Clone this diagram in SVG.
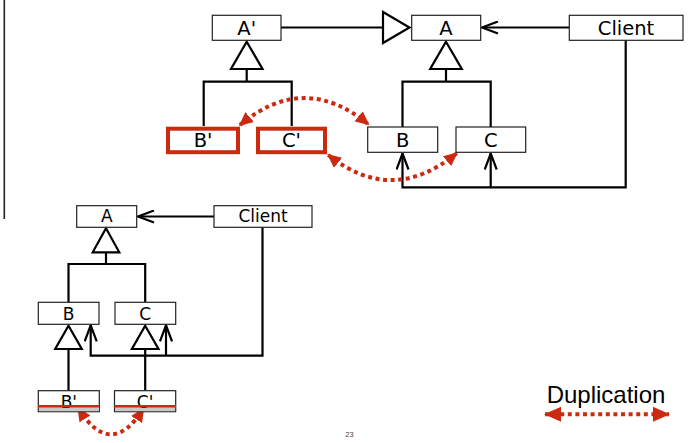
<svg xmlns="http://www.w3.org/2000/svg" width="693" height="443" viewBox="0 0 693 443">
<style>
.box{fill:#fff;stroke:#222;stroke-width:1.2}
.rbox{fill:#fff;stroke:#cc2a10;stroke-width:4}
.ln{fill:none;stroke:#000;stroke-width:2.2}
.gen{fill:#fff;stroke:#000;stroke-width:2.2;stroke-linejoin:miter}
.dup{fill:none;stroke:#cc2a10;stroke-width:4;stroke-dasharray:4 3.6}
.t1{font-family:"DejaVu Sans",Verdana,sans-serif;font-size:19.5px;text-anchor:middle;fill:#000}
.t2{font-family:"DejaVu Sans",Verdana,sans-serif;font-size:17px;text-anchor:middle;fill:#000}
</style>
<defs>
<marker id="open" viewBox="0 0 18 14" refX="17" refY="7" markerWidth="18" markerHeight="14" markerUnits="userSpaceOnUse" orient="auto">
<path d="M1,1 L17,7 L1,13" fill="none" stroke="#000" stroke-width="2.2"/>
</marker>
<marker id="red" viewBox="0 0 14 13" refX="12.5" refY="6.5" markerWidth="14" markerHeight="13" markerUnits="userSpaceOnUse" orient="auto-start-reverse">
<path d="M0,0 L14,6.5 L0,13 z" fill="#cc2a10"/>
</marker>
<marker id="redL" viewBox="0 0 17 15" refX="16" refY="7.5" markerWidth="17" markerHeight="15" markerUnits="userSpaceOnUse" orient="auto-start-reverse">
<path d="M0,0 L17,7.5 L0,15 z" fill="#cc2a10"/>
</marker>
</defs>
<rect width="693" height="443" fill="#fff"/>
<line x1="4.3" y1="0" x2="4.3" y2="219" stroke="#222" stroke-width="1.6"/>

<g id="connectors">
<!-- top diagram -->
<line class="ln" x1="281" y1="27.5" x2="383" y2="27.5"/>
<polygon class="gen" points="383,12 409.5,27.5 383,43"/>
<line class="ln" x1="569.3" y1="27.5" x2="482" y2="27.5" marker-end="url(#open)"/>
<polygon class="gen" points="246.7,41.7 262.5,69 231,69"/>
<polyline class="ln" points="246.7,69 246.7,81.7"/>
<polyline class="ln" points="203.7,126 203.7,81.7 291.7,81.7 291.7,126"/>
<polygon class="gen" points="446,41.7 461.8,69 430.2,69"/>
<polyline class="ln" points="446,69 446,81.7"/>
<polyline class="ln" points="402.5,127 402.5,81.7 490.7,81.7 490.7,127"/>
<polyline class="ln" points="625.7,40.3 625.7,187.3 402.5,187.3 402.5,153.5" marker-end="url(#open)"/>
<polyline class="ln" points="490.7,187.3 490.7,153.5" marker-end="url(#open)"/>
<!-- bottom diagram -->
<line class="ln" x1="214" y1="216.5" x2="138" y2="216.5" marker-end="url(#open)"/>
<polygon class="gen" points="106,228.3 119.3,252.3 92.7,252.3"/>
<polyline class="ln" points="106,252.3 106,264"/>
<polyline class="ln" points="68.5,302.3 68.5,264 145.2,264 145.2,302.3"/>
<polygon class="gen" points="68.5,325.7 81.8,349 55.2,349"/>
<polyline class="ln" points="68.5,349 68.5,390.7"/>
<polygon class="gen" points="145.2,325.7 158.5,349 131.9,349"/>
<polyline class="ln" points="145.2,349 145.2,390.7"/>
<polyline class="ln" points="262.5,227.3 262.5,355.7 90.7,355.7 90.7,325.3" marker-end="url(#open)"/>
<polyline class="ln" points="166,355.7 166,325.3" marker-end="url(#open)"/>
<!-- duplication arcs -->
<path class="dup" d="M240,125 Q304,71.5 368.3,124.3" marker-start="url(#red)" marker-end="url(#red)"/>
<path class="dup" d="M328.3,155 Q392,206 456.7,153.3" marker-start="url(#red)" marker-end="url(#red)"/>
<path class="dup" d="M78.3,408.3 Q110.8,460 143.3,409" marker-start="url(#red)" marker-end="url(#red)"/>
</g>

<!-- top diagram nodes -->
<g id="top-Aprime"><rect class="box" x="212.3" y="15.3" width="68.7" height="25"/><text class="t1" x="246.7" y="34.7">A'</text></g>
<g id="top-A"><rect class="box" x="411.7" y="15.3" width="69" height="25"/><text class="t1" x="446" y="34.7">A</text></g>
<g id="top-Client"><rect class="box" x="569.3" y="15.3" width="113.7" height="25"/><text class="t1" x="626" y="34.7">Client</text></g>
<g id="top-Bprime"><rect class="rbox" x="168" y="128.7" width="70" height="23.5"/><text class="t1" x="203" y="146.7">B'</text></g>
<g id="top-Cprime"><rect class="rbox" x="258" y="128.7" width="67" height="23.5"/><text class="t1" x="291.5" y="146.7">C'</text></g>
<g id="top-B"><rect class="box" x="367.7" y="127" width="70" height="25.3"/><text class="t1" x="402.7" y="146.7">B</text></g>
<g id="top-C"><rect class="box" x="456" y="127" width="69.7" height="25.3"/><text class="t1" x="490.8" y="146.7">C</text></g>

<!-- bottom diagram nodes -->
<g id="bot-A"><rect class="box" x="76.7" y="205.7" width="60" height="21.6"/><text class="t2" x="106.7" y="222.3">A</text></g>
<g id="bot-Client"><rect class="box" x="214" y="205.7" width="98" height="21.6"/><text class="t2" x="263" y="222.3">Client</text></g>
<g id="bot-B"><rect class="box" x="38.3" y="302.3" width="60.7" height="22"/><text class="t2" x="68.7" y="320">B</text></g>
<g id="bot-C"><rect class="box" x="115" y="302.3" width="60.7" height="22"/><text class="t2" x="145.3" y="320">C</text></g>
<g id="bot-Bprime"><rect class="box" x="38.3" y="390.7" width="61" height="21"/><rect x="38.9" y="407" width="59.8" height="4.2" fill="#c8c8c8"/><text class="t2" x="68.8" y="407.5">B'</text><line x1="38" y1="406.3" x2="99.6" y2="406.3" stroke="#cc2a10" stroke-width="2.6"/></g>
<g id="bot-Cprime"><rect class="box" x="114.5" y="390.7" width="61.2" height="21"/><rect x="115.1" y="407" width="60" height="4.2" fill="#c8c8c8"/><text class="t2" x="145.1" y="407.5">C'</text><line x1="114.2" y1="406.3" x2="176" y2="406.3" stroke="#cc2a10" stroke-width="2.6"/></g>

<!-- legend -->
<g id="legend">
<text x="606" y="403.3" font-family="Liberation Sans, Arial, sans-serif" font-size="24" text-anchor="middle" fill="#000">Duplication</text>
<line class="dup" x1="545" y1="414.3" x2="669" y2="414.3" marker-start="url(#redL)" marker-end="url(#redL)"/>
</g>
<text x="349.5" y="437.3" font-family="Liberation Sans, Arial, sans-serif" font-size="7.5" text-anchor="middle" fill="#444">23</text>
</svg>
